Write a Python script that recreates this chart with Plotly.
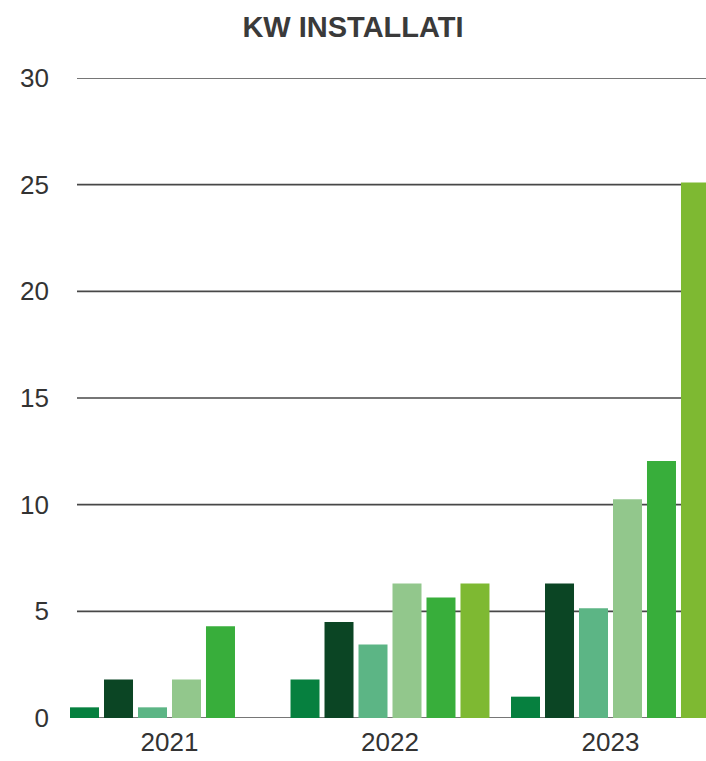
import plotly.graph_objects as go

years = ["2021", "2022", "2023"]
series_names = ["Serie 1", "Serie 2", "Serie 3", "Serie 4", "Serie 5", "Serie 6"]
s1 = [0.5, 1.8, 1.0]
s2 = [1.8, 4.5, 6.3]
s3 = [0.5, 3.45, 5.15]
s4 = [1.8, 6.3, 10.25]
s5 = [4.3, 5.65, 12.05]
s6 = [None, 6.3, 25.1]
colors = ["#06803f", "#0b4524", "#5cb585", "#92c78c", "#38ae3b", "#7eb932"]
y_ticks = [0, 5, 10, 15, 20, 25, 30]

fig = go.Figure()
for name, vals, c in zip(series_names, [s1, s2, s3, s4, s5, s6], colors):
    fig.add_trace(go.Bar(x=years, y=vals, name=name, marker=dict(color=c, line=dict(width=0))))

W, H = 706, 761
L, R, T, B = 59, 0, 78, 43
plot_w = W - L - R
cat_px = 220.5
left = -110.5 / cat_px

shapes = []
for v in y_ticks:
    x0 = 11 / plot_w if v == 0 else 18 / plot_w
    shapes.append(dict(type="line", xref="paper", yref="y", x0=x0, x1=1, y0=v, y1=v,
                       line=dict(color="#484848", width=1.6), layer="below"))

fig.update_layout(
    width=W, height=H,
    margin=dict(l=L, r=R, t=T, b=B),
    barmode="group", bargap=0.075, bargroupgap=0.147,
    plot_bgcolor="white", paper_bgcolor="white",
    showlegend=False,
    font=dict(family="Liberation Sans, Arial, sans-serif", color="#333333"),
    title=dict(text="<b>KW INSTALLATI</b>", x=0.5, xanchor="center", y=1 - 27 / H, yanchor="middle",
               yref="container", font=dict(size=29, color="#3a3a3a", family="Liberation Sans, Arial, sans-serif")),
    xaxis=dict(type="category", range=[left, left + plot_w / cat_px], showgrid=False, showline=False,
               zeroline=False, ticks="", tickfont=dict(size=26, color="#333333"), ticklabelstandoff=6),
    yaxis=dict(range=[0, 30], tickvals=y_ticks, showgrid=False, zeroline=False, showline=False, ticks="",
               tickfont=dict(size=26, color="#333333"), ticklabelstandoff=9),
    shapes=shapes,
)

fig.write_html("out.html", config={"displayModeBar": False},
               post_script="document.body.style.margin='0';document.body.style.overflow='hidden';")
